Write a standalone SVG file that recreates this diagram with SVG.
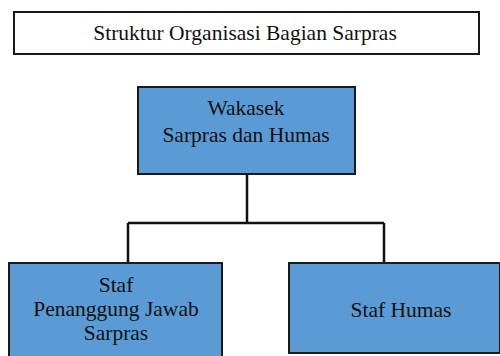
<svg xmlns="http://www.w3.org/2000/svg" width="500" height="356" viewBox="0 0 500 356">
<style>
.box{fill:#5B9BD5;stroke:#1a1a1a;stroke-width:2}
.title{fill:#ffffff;stroke:#1a1a1a;stroke-width:2}
text{font-family:'Liberation Serif','Times New Roman',serif;font-size:21.5px;fill:#111;text-anchor:middle}
.conn{fill:none;stroke:#111;stroke-width:2.5}
</style>
<rect width="500" height="356" fill="#fff"/>
<g id="title">
<rect class="title" x="14" y="12" width="465" height="42"/>
<text x="245" y="40">Struktur Organisasi Bagian Sarpras</text>
</g>
<g id="connectors">
<path class="conn" d="M247 174V223M128 223H384M128 223V263M384 223V263"/>
</g>
<g id="wakasek">
<rect class="box" x="138" y="87" width="217" height="87"/>
<text x="246" y="115">Wakasek</text>
<text x="246" y="142">Sarpras dan Humas</text>
</g>
<g id="staf-pj">
<rect class="box" x="9" y="263" width="213" height="100"/>
<text x="116" y="292">Staf</text>
<text x="116" y="316">Penanggung Jawab</text>
<text x="116" y="340">Sarpras</text>
</g>
<g id="staf-humas">
<rect class="box" x="289" y="263" width="211" height="90"/>
<text x="401" y="317">Staf Humas</text>
</g>
</svg>
